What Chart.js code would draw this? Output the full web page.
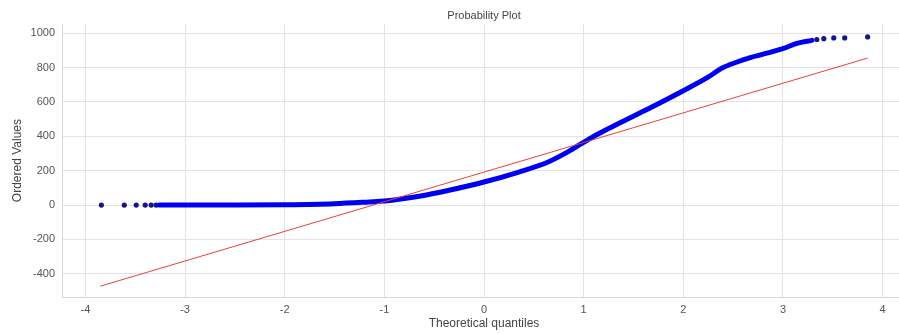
<!DOCTYPE html>
<html>
<head>
<meta charset="utf-8">
<script src="https://cdn.jsdelivr.net/npm/chart.js@4/dist/chart.umd.min.js"></script>
<style>
  body { margin: 0; background: #fff; overflow: hidden; }
  #wrap { width: 899px; height: 334px; overflow: hidden; }
</style>
</head>
<body>
<div id="wrap"><canvas id="qq" width="910" height="334"></canvas></div>
<script>
// Ordered values vs theoretical quantiles
const bandQ = [-3.26, -3.0, -2.5, -2.0, -1.5, -1.15, -1.0, -0.65, -0.35, 0, 0.35, 0.65, 0.85, 1.0, 1.15, 1.35, 1.65, 2.0, 2.24, 2.39, 2.54, 2.64, 3.0, 3.14, 3.29];
const bandV = [0, 0, 0, 2, 8, 18, 23, 51, 86, 134, 192, 252, 312, 365, 415, 474, 560, 665, 741, 797, 832, 852, 910, 940, 958];

// separate points at the tails
const tailQ = [-3.84, -3.61, -3.49, -3.40, -3.34, -3.29, 3.34, 3.41, 3.51, 3.62, 3.85];
const tailV = [0, 0, 0, 0, 0, 0, 963, 968, 972, 972, 978];

// least squares fit line
const fitQ = [-3.85, 3.85];
const fitV = [-472, 855];

const xTicks = [-4, -3, -2, -1, 0, 1, 2, 3, 4];
const yTicks = [-400, -200, 0, 200, 400, 600, 800, 1000];

const pts = (xs, ys) => xs.map((x, i) => ({ x: x, y: ys[i] }));

const font = { family: '"Liberation Sans", Arial, sans-serif', size: 11, weight: 'normal' };
const gridColor = '#e3e3e3';

new Chart(document.getElementById('qq').getContext('2d'), {
    type: 'scatter',
    data: {
        datasets: [
            {
                data: pts(fitQ, fitV),
                showLine: true,
                borderColor: '#e8403a',
                borderWidth: 1,
                pointRadius: 0
            },
            {
                data: pts(bandQ, bandV),
                showLine: true,
                borderColor: '#0000f0',
                borderWidth: 5,
                borderCapStyle: 'round',
                cubicInterpolationMode: 'monotone',
                pointRadius: 0
            },
            {
                data: pts(tailQ, tailV),
                backgroundColor: '#16168a',
                borderWidth: 0,
                pointRadius: 2.6
            }
        ]
    },
    options: {
        responsive: false,
        animation: false,
        layout: { padding: 0 },
        plugins: {
            legend: { display: false },
            tooltip: { enabled: false },
            title: {
                display: true,
                text: 'Probability Plot',
                fullSize: false,
                color: '#444',
                font: font,
                padding: { top: 9, bottom: 2 }
            }
        },
        scales: {
            x: {
                type: 'linear',
                min: -4.235,
                max: 4.235,
                afterBuildTicks: s => { s.ticks = xTicks.map(v => ({ value: v })); },
                afterFit: s => { s.height = 37; },
                grid: { color: gridColor, drawTicks: false },
                border: { color: '#d6d6d6' },
                ticks: { color: '#555', font: font, padding: 6, maxRotation: 0, callback: v => String(v) },
                title: {
                    display: true,
                    text: 'Theoretical quantiles',
                    color: '#444',
                    font: { family: font.family, size: 12 },
                    padding: { top: 0, bottom: 3 }
                }
            },
            y: {
                min: -535,
                max: 1052,
                afterBuildTicks: s => { s.ticks = yTicks.map(v => ({ value: v })); },
                afterFit: s => { s.width = 62; },
                grid: { color: gridColor, drawTicks: false },
                border: { color: '#d6d6d6' },
                ticks: { color: '#555', font: font, padding: 7, callback: v => String(v) },
                title: {
                    display: true,
                    text: 'Ordered Values',
                    color: '#444',
                    font: { family: font.family, size: 12 },
                    padding: { top: 10, bottom: 0 }
                }
            }
        }
    }
});
</script>
</body>
</html>
